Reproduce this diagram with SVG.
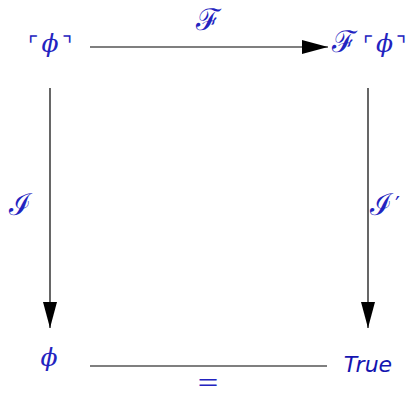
<svg xmlns="http://www.w3.org/2000/svg" width="415" height="395" viewBox="0 0 415 395">
<style>
.t{fill:#2323c0;font-family:"DejaVu Serif",serif;font-size:22px;}
.ph{font-family:"DejaVu Serif",serif;font-style:italic;font-size:25px;}
.sc{font-size:30px;}
.p{font-family:"DejaVu Sans",sans-serif;font-size:22px;}
.s{font-family:"DejaVu Sans",sans-serif;font-style:italic;fill:#1414b0;}
.l{stroke:#000;stroke-width:1.2;fill:none;}
</style>
<defs>
<marker id="ah" markerUnits="userSpaceOnUse" markerWidth="26" markerHeight="14" refX="26" refY="7" orient="auto">
<path d="M0,0 L26,7 L0,14 Z" fill="#000"/>
</marker>
</defs>
<g id="connectors">
<line class="l" x1="90" y1="47" x2="328" y2="47" marker-end="url(#ah)"/>
<line class="l" x1="50" y1="88" x2="50" y2="328" marker-end="url(#ah)"/>
<line class="l" x1="368" y1="88" x2="368" y2="328" marker-end="url(#ah)"/>
<line class="l" x1="90" y1="366" x2="327" y2="366"/>
</g>
<g id="labels">
<text class="t sc" x="208" y="30" text-anchor="middle">ℱ</text>
<text class="t sc" x="20" y="215" text-anchor="middle">ℐ</text>
<text class="t" x="385" y="215" text-anchor="middle"><tspan class="sc">ℐ</tspan><tspan class="p" dx="3" dy="-3">′</tspan></text>
<text font-family="Liberation Sans, sans-serif" fill="#2323c0" font-size="22" text-anchor="middle" transform="translate(208,390) scale(1.6,1)">=</text>
</g>
<g id="n1"><text class="t" x="50" y="52" text-anchor="middle">⌜<tspan class="ph" dx="3">ϕ</tspan><tspan dx="3">⌝</tspan></text></g>
<g id="n2"><text class="t" x="369" y="52" text-anchor="middle"><tspan class="sc">ℱ</tspan><tspan dx="6">⌜</tspan><tspan class="ph" dx="3">ϕ</tspan><tspan dx="3">⌝</tspan></text></g>
<g id="n3"><text class="t ph" x="49" y="366" text-anchor="middle">ϕ</text></g>
<g id="n4"><text class="t s" x="368" y="372" text-anchor="middle">True</text></g>
</svg>
